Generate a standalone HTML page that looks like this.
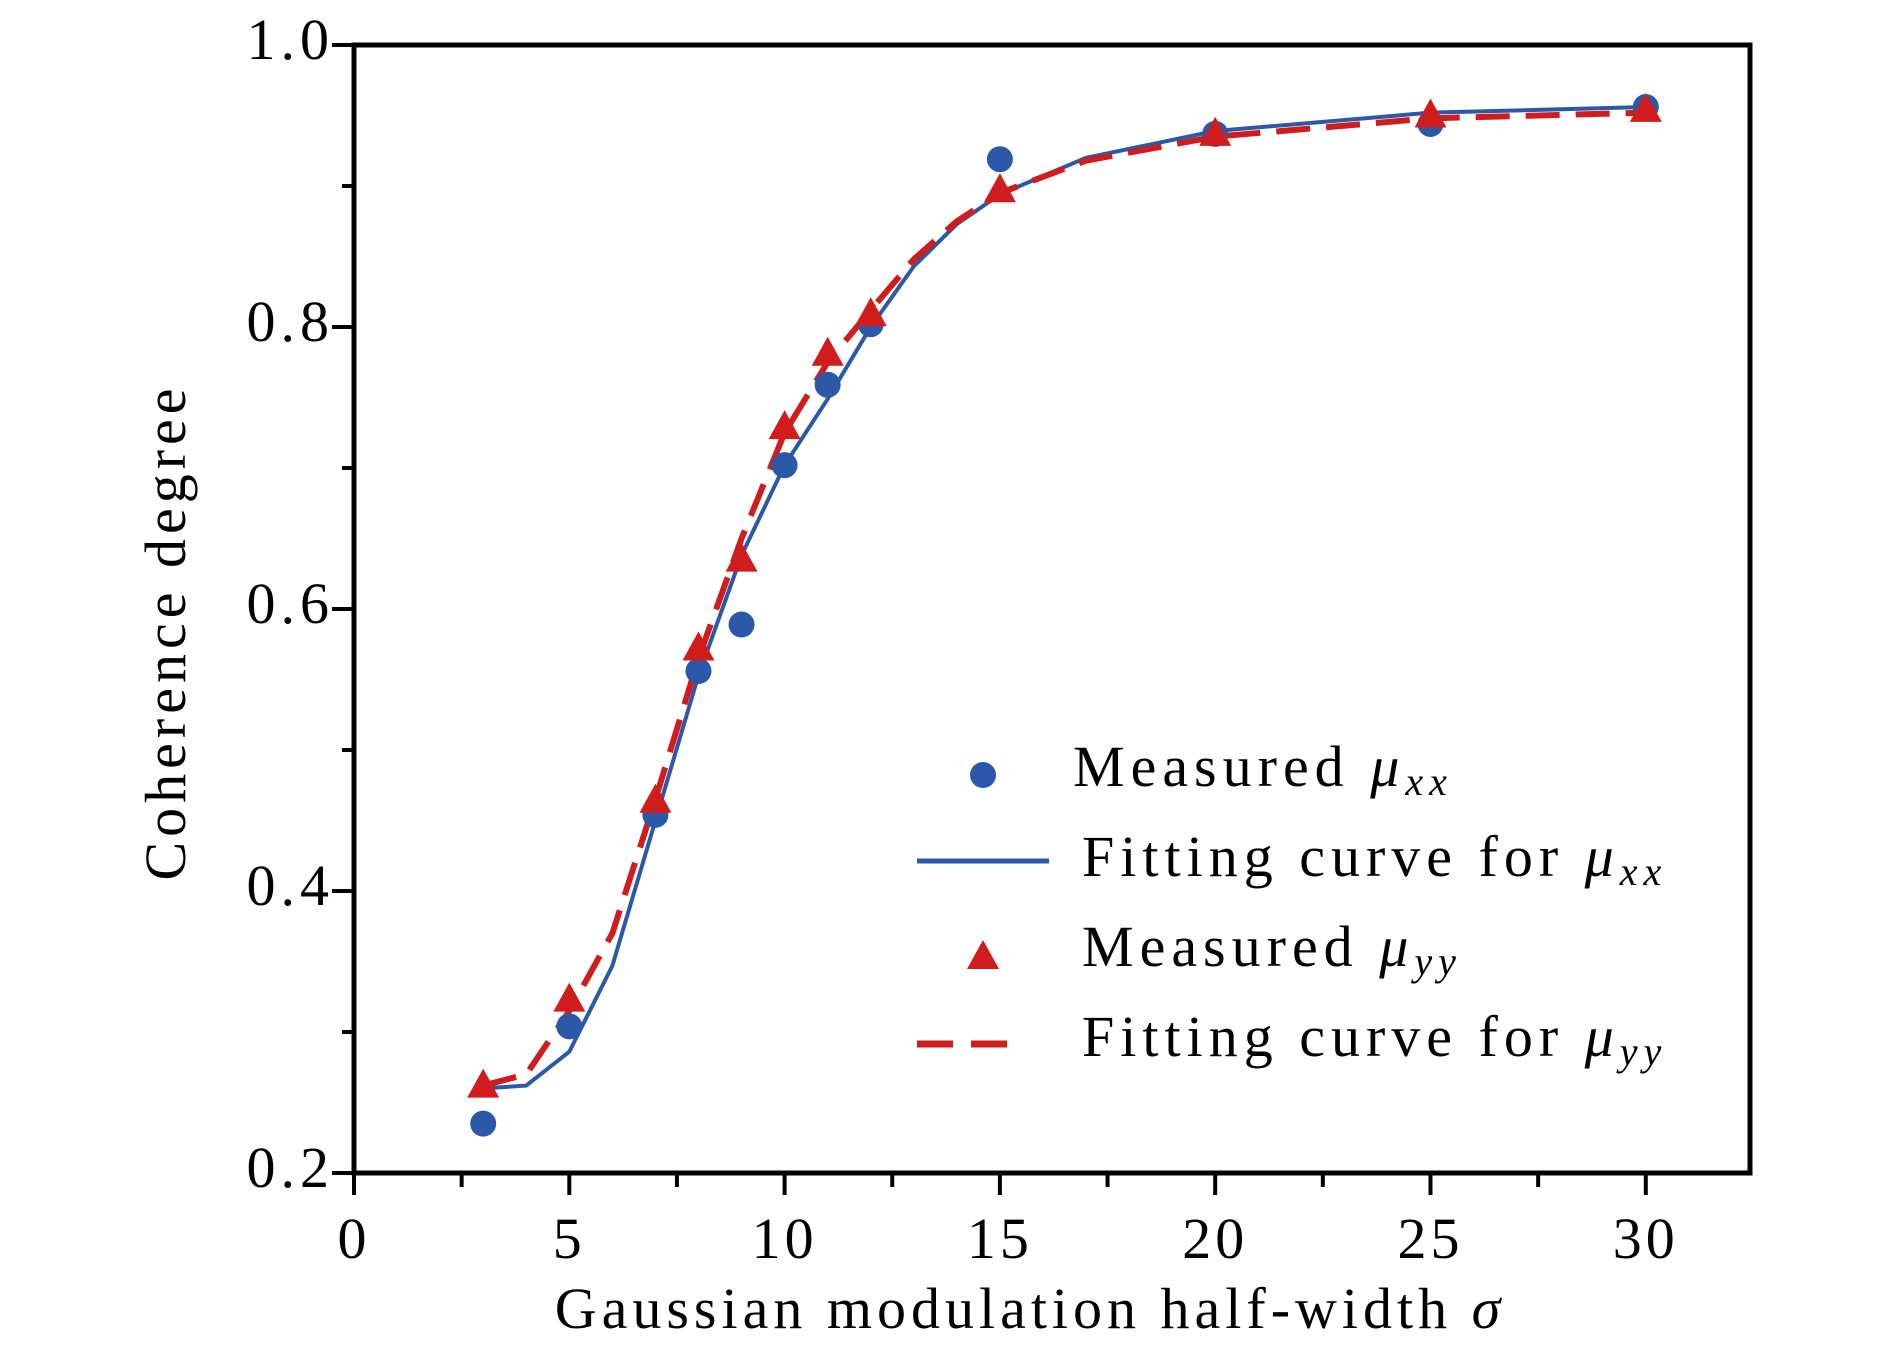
<!DOCTYPE html>
<html><head><meta charset="utf-8"><style>
html,body{margin:0;padding:0;background:#fff;}
svg{display:block;font-family:"Liberation Serif",serif;}
</style></head><body>
<svg id="chart" width="1890" height="1347" viewBox="0 0 1890 1347" xmlns="http://www.w3.org/2000/svg">
<g id="axes"></g>
<g id="series"></g>
<g id="legend">
  <circle cx="983" cy="775" r="13" fill="#2b58a8"/>
  <text x="1073" y="786" font-size="58" letter-spacing="6">Measured <tspan font-style="italic">μ</tspan><tspan font-style="italic" font-size="40" dy="9">xx</tspan></text>
  <line x1="917" y1="861" x2="1049" y2="861" stroke="#2b58a8" stroke-width="5"/>
  <text x="1082" y="876" font-size="58" letter-spacing="6">Fitting curve for <tspan font-style="italic">μ</tspan><tspan font-style="italic" font-size="40" dy="9">xx</tspan></text>
  <polygon points="983,940 999,969 967,969" fill="#d01c1c"/>
  <text x="1082" y="966" font-size="58" letter-spacing="6">Measured <tspan font-style="italic">μ</tspan><tspan font-style="italic" font-size="40" dy="9">yy</tspan></text>
  <line x1="917" y1="1044" x2="1024" y2="1044" stroke="#d01c1c" stroke-width="7" stroke-dasharray="36,18"/>
  <text x="1082" y="1056" font-size="58" letter-spacing="6">Fitting curve for <tspan font-style="italic">μ</tspan><tspan font-style="italic" font-size="40" dy="9">yy</tspan></text>
</g>
<text x="1030" y="1328" font-size="58" letter-spacing="5" text-anchor="middle">Gaussian modulation half-width <tspan font-style="italic">σ</tspan></text>
<text transform="translate(185,632) rotate(-90)" font-size="58" letter-spacing="5" text-anchor="middle">Coherence degree</text>
</svg>
<script>
const xTickValues = [0,5,10,15,20,25,30];
const xTickLabels = ["0","5","10","15","20","25","30"];
const yTickValues = [0.2,0.4,0.6,0.8,1.0];
const yTickLabels = ["0.2","0.4","0.6","0.8","1.0"];
const measX = [3,5,7,8,9,10,11,12,15,20,25,30];
const measXX = [0.235,0.304,0.454,0.556,0.589,0.702,0.759,0.802,0.919,0.937,0.944,0.956];
const measYY = [0.262,0.323,0.464,0.572,0.635,0.729,0.781,0.809,0.897,0.937,0.950,0.954];
const fitX = [3,4,5,6,7,8,9,10,11,12,13,14,15,17,20,25,30];
const fitXX = [0.260,0.262,0.286,0.347,0.450,0.553,0.638,0.702,0.749,0.800,0.843,0.873,0.894,0.920,0.939,0.952,0.956];
const fitYY = [0.262,0.270,0.315,0.370,0.465,0.565,0.650,0.725,0.775,0.812,0.848,0.875,0.895,0.918,0.935,0.948,0.952];

const L=354,R=1750,T=45,B=1173, xMin=0,xMax=32.42,yMin=0.2,yMax=1.0;
const sx=v=>L+(v-xMin)/(xMax-xMin)*(R-L);
const sy=v=>B-(v-yMin)/(yMax-yMin)*(B-T);
const NS="http://www.w3.org/2000/svg";
function mk(tag,attrs,parent){const e=document.createElementNS(NS,tag);for(const k in attrs)e.setAttribute(k,attrs[k]);parent.appendChild(e);return e;}
const axes=document.getElementById('axes'), series=document.getElementById('series');

let frame=mk('rect',{x:L,y:T,width:R-L,height:B-T,fill:'none',stroke:'#000','stroke-width':5},axes);


for(let v=0;v<=32.4;v+=2.5){
  const major=Math.abs(v%5)<1e-6;
  const t=mk('line',{x1:sx(v),y1:B,x2:sx(v),y2:B+(major?22:14),stroke:'#000','stroke-width':4},axes);
  
  
}
xTickValues.forEach((v,i)=>{
  const t=mk('text',{x:sx(v),y:1258,'font-size':58,'letter-spacing':4,'text-anchor':'middle'},axes);
  t.textContent=xTickLabels[i];
  
  
});
for(let v=0.2;v<=1.0001;v+=0.1){
  const major=Math.round(v*10)%2===0;
  const t=mk('line',{x1:L,y1:sy(v),x2:L-(major?22:12),y2:sy(v),stroke:'#000','stroke-width':4},axes);
  
  
}
yTickValues.forEach((v,i)=>{
  const t=mk('text',{x:334,y:sy(v)+14,'font-size':58,'letter-spacing':5,'text-anchor':'end'},axes);
  t.textContent=yTickLabels[i];
  
  
});

const ptsXX=fitX.map((x,i)=>sx(x)+','+sy(fitXX[i])).join(' ');
const lxx=mk('polyline',{points:ptsXX,fill:'none',stroke:'#2b58a8','stroke-width':4},series);


const ptsYY=fitX.map((x,i)=>sx(x)+','+sy(fitYY[i])).join(' ');
const lyy=mk('polyline',{points:ptsYY,fill:'none',stroke:'#d01c1c','stroke-width':6,'stroke-dasharray':'34,16'},series);



measX.forEach((x,i)=>{
  const c=mk('circle',{cx:sx(x),cy:sy(measXX[i]),r:13,fill:'#2b58a8'},series);
  
  
});
measX.forEach((x,i)=>{
  const cx=sx(x),cy=sy(measYY[i]);
  const p=mk('polygon',{points:`${cx},${cy-17} ${cx+16},${cy+12} ${cx-16},${cy+12}`,fill:'#d01c1c'},series);
  
  
});
</script>
</body></html>
